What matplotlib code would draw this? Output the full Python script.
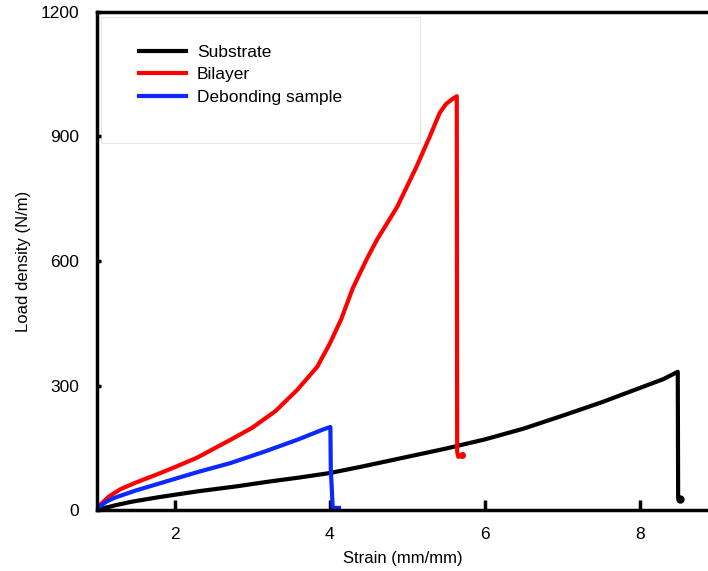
import numpy as np
import matplotlib.pyplot as plt
from matplotlib.patches import Rectangle

plt.rcParams['font.family'] = ['Liberation Sans', 'DejaVu Sans']

# Substrate (black)
sub_x = [1.0, 1.1, 1.25, 1.45, 1.8, 2.3, 2.8, 3.2, 3.6, 4.0, 4.4, 5.0, 5.5, 6.0, 6.5,
         7.0, 7.5, 8.0, 8.3, 8.49, 8.495, 8.52]
sub_y = [0, 5, 12, 20, 31, 45, 57, 68, 78, 89, 104, 128, 148, 170, 196,
         227, 259, 294, 315, 333, 30, 27]

# Bilayer (red)
bil_x = [1.0, 1.05, 1.15, 1.3, 1.5, 1.75, 2.0, 2.29, 2.72, 3.0, 3.3, 3.58, 3.84, 4.0,
         4.15, 4.3, 4.48, 4.61, 4.87, 5.12, 5.29, 5.42, 5.5, 5.58, 5.64, 5.645,
         5.66, 5.72]
bil_y = [0, 14, 32, 50, 66, 84, 103, 126, 169, 198, 238, 289, 345, 400,
         460, 535, 605, 651, 730, 827, 899, 957, 978, 990, 997, 140,
         128, 132]

# Debonding sample (blue)
deb_x = [1.0, 1.05, 1.12, 1.22, 1.5, 1.86, 2.29, 2.72, 3.15, 3.58, 3.93, 4.01, 4.015,
         4.04, 4.12]
deb_y = [0, 10, 20, 29, 47, 67, 91, 113, 140, 169, 195, 200, 100, 5, 5]

fig = plt.figure(figsize=(7.08, 5.71), dpi=100)
ax = fig.add_axes([97 / 708, 61 / 571, 611 / 708, 498 / 571])

ax.plot(sub_x, sub_y, color='black', lw=3, label='Substrate', solid_joinstyle='round')
ax.plot(bil_x, bil_y, color='#ff0000', lw=3, label='Bilayer', solid_joinstyle='round')
ax.plot(deb_x, deb_y, color='#0a28ff', lw=3, label='Debonding sample', solid_joinstyle='round')
ax.plot([8.52], [27], 'o', color='black', ms=5)
ax.plot([5.71], [132], 'o', color='#ff0000', ms=4)

ax.set_xlim(1, 8.88)
ax.set_ylim(0, 1200)
ax.set_xticks([2, 4, 6, 8])
ax.set_yticks([0, 300, 600, 900, 1200])

for s in ['left', 'bottom', 'top']:
    ax.spines[s].set_linewidth(2.5)
ax.spines['right'].set_visible(False)

ax.tick_params(axis='x', direction='in', length=7, width=2.5, pad=12, labelsize=12.5)
ax.tick_params(axis='y', direction='in', length=3, width=2.5, pad=13, labelsize=12.5)

ax.set_xlabel('Strain (mm/mm)', fontsize=12, labelpad=7)
ax.set_ylabel('Load density (N/m)', fontsize=12, labelpad=7)

# faint legend box
ax.add_patch(Rectangle((0.0065, 0.737), 0.522, 0.253, transform=ax.transAxes,
                       facecolor='white', edgecolor='#e6e6e6', lw=0.8, zorder=1))
ax.legend(loc='upper left', bbox_to_anchor=(0.068, 0.934), frameon=False,
          fontsize=12.5, handlelength=2.75, handletextpad=0.62, labelspacing=0.42,
          borderpad=0, borderaxespad=0)

fig.savefig('out.png', dpi=100)
